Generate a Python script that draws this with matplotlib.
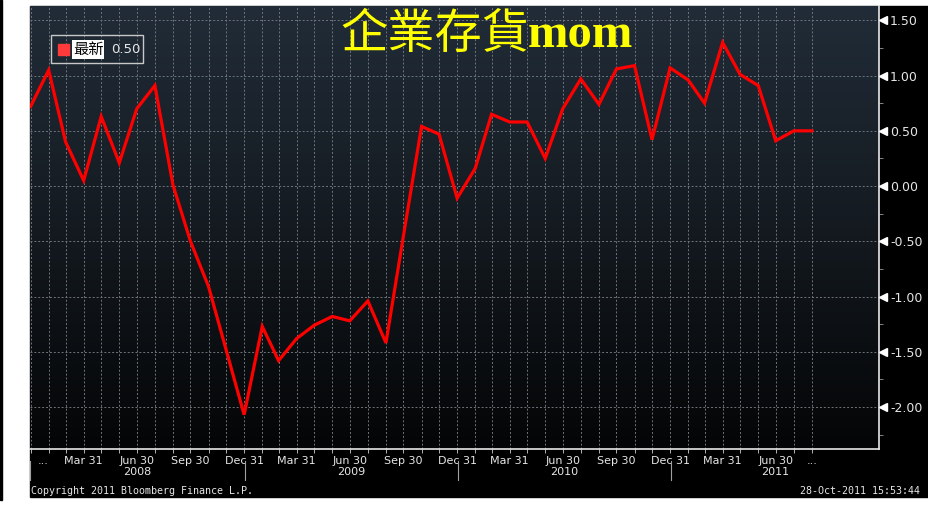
import matplotlib
matplotlib.use("Agg")
import matplotlib.pyplot as plt
import matplotlib.transforms as mtransforms
from matplotlib.colors import LinearSegmentedColormap
from matplotlib.patches import Rectangle
import numpy as np
import pandas as pd

plt.rcParams["axes.unicode_minus"] = False

# monthly inventories mom (%), Dec 2007 - Aug 2011
dates = pd.date_range("2007-12-31", periods=45, freq="ME")
values = [0.72, 1.05, 0.40, 0.05, 0.63, 0.21, 0.70, 0.91, 0.01, -0.50,
          -0.91, -1.48, -2.07, -1.27, -1.58, -1.38, -1.26, -1.18, -1.22, -1.04,
          -1.42, -0.45, 0.54, 0.47, -0.11, 0.16, 0.65, 0.58, 0.58, 0.25,
          0.70, 0.97, 0.74, 1.06, 1.09, 0.42, 1.07, 0.96, 0.75, 1.30,
          1.01, 0.91, 0.41, 0.50, 0.50]
last_value = "0.50"
title_cn = "企業存貨"
title_en = "mom"
legend_label = "最新"
years = [2008, 2009, 2010, 2011]
copyright_text = "Copyright 2011 Bloomberg Finance L.P."
stamp_text = "28-Oct-2011 15:53:44"

W, H = 929, 505
fig = plt.figure(figsize=(W / 100, H / 100), dpi=100, facecolor="white")


def fx(px):
    return px / W


def fy(py):
    return 1 - py / H


# black panel and thin left line
fig.patches.append(Rectangle((fx(30), fy(497)), fx(929) - fx(30), fy(6) - fy(497),
                             transform=fig.transFigure, color="black", zorder=-2))
fig.patches.append(Rectangle((0, fy(500)), fx(2), fy(0) - fy(500),
                             transform=fig.transFigure, color="black", zorder=-2))

rect = [fx(30), fy(449), fx(879) - fx(30), fy(6) - fy(449)]

bg = fig.add_axes(rect, zorder=0)
cmap = LinearSegmentedColormap.from_list("bb", ["#040506", "#141a20", "#212c38"])
grad = np.linspace(0, 1, 256).reshape(-1, 1)
bg.imshow(grad, cmap=cmap, aspect="auto", origin="lower", extent=[0, 1, 0, 1])
bg.axis("off")

ax = fig.add_axes(rect, zorder=1)
ax.set_facecolor("none")

ax.plot(dates, values, color="#ff0000", lw=2.3, zorder=3, solid_joinstyle="miter")

x_left = pd.Timestamp("2007-12-30")
x_right = pd.Timestamp("2011-12-24")
ax.set_xlim(x_left, x_right)
ax.set_ylim(-2.38, 1.63)

for s in ["left", "top"]:
    ax.spines[s].set_visible(False)
for s in ["right", "bottom"]:
    ax.spines[s].set_color("#e8e8e8")
    ax.spines[s].set_linewidth(1.2)

# y axis on the right
ax.yaxis.tick_right()
yt = np.arange(-2.0, 1.51, 0.5)
ax.set_yticks(yt)
ax.set_yticklabels(["%.2f" % v for v in yt])
ax.set_yticks(np.arange(-2.25, 1.6, 0.25), minor=True)
ax.tick_params(axis="y", which="major", length=0, pad=8, labelsize=9, labelcolor="#e6e6e6")
ax.tick_params(axis="y", which="minor", length=3, color="#9a9a9a", direction="out")
tri = ax.get_yaxis_transform() + mtransforms.ScaledTranslation(4 / 100, 0, fig.dpi_scale_trans)
ax.plot([1] * len(yt), yt, ls="none", marker="<", ms=6, color="white", mec="white",
        transform=tri, clip_on=False, zorder=5)

# x axis: quarter labels, monthly ticks
quarters = [d for d in dates if d.month in (3, 6, 9, 12) and d > dates[0] and d < dates[-2]]
ax.set_xticks(quarters)
ax.set_xticklabels([d.strftime("%b ") + str(d.day) for d in quarters])
ax.set_xticks(dates, minor=True)
ax.xaxis.remove_overlapping_locs = False
ax.tick_params(axis="x", which="major", length=0, pad=5, labelsize=8, labelcolor="#e6e6e6")
ax.tick_params(axis="x", which="minor", length=3, color="#d0d0d0", direction="out")

ax.grid(axis="x", which="minor", color="#6f757b", ls=(0, (2, 2)), lw=0.7)
ax.grid(axis="y", which="major", color="#6f757b", ls=(0, (2, 2)), lw=0.7)
ax.set_axisbelow(True)

xt = ax.get_xaxis_transform()
ax.text(pd.Timestamp("2008-01-21"), -0.027, "...", transform=xt, ha="center", va="center",
        color="#e6e6e6", fontsize=8)
ax.text(pd.Timestamp("2011-08-31"), -0.027, "...", transform=xt, ha="center", va="center",
        color="#e6e6e6", fontsize=8)

# year row
bounds = [x_left] + [pd.Timestamp(f"{y}-01-01") for y in years[1:]] + [x_right]
for b in bounds[:-1]:
    ax.plot([b, b], [(449 - 461) / 443, (449 - 480) / 443], color="#a0a0a0", lw=0.8,
            transform=xt, clip_on=False)
for i, y in enumerate(years):
    mid = bounds[i] + (bounds[i + 1] - bounds[i]) / 2
    ax.text(mid, (449 - 472) / 443, str(y), transform=xt, ha="center", va="center",
            color="#e6e6e6", fontsize=8)

# title
fig.text(fx(529), fy(48), title_cn, family=["Noto Sans CJK TC", "DejaVu Sans"], fontsize=34,
         weight="light", color="#ffff00", ha="right", va="baseline")
fig.text(fx(528), fy(47), title_en, family="Liberation Serif", weight="bold", fontsize=35,
         color="#ffff00", ha="left", va="baseline")

# legend box
fig.patches.append(Rectangle((fx(51), fy(63)), fx(143) - fx(51), fy(35) - fy(63),
                             transform=fig.transFigure, fill=False, ec="#c8c8c8", lw=1, zorder=4))
fig.patches.append(Rectangle((fx(58), fy(55)), fx(69) - fx(58), fy(44) - fy(55),
                             transform=fig.transFigure, color="#ff3a3a", zorder=4))
fig.text(fx(73), fy(49.5), legend_label, family=["Noto Sans CJK TC", "DejaVu Sans"], fontsize=11,
         color="black", ha="left", va="center",
         bbox=dict(facecolor="white", edgecolor="none", pad=0.6))
fig.text(fx(111), fy(49.5), last_value, fontsize=9.5, color="#e6e6e6", ha="left", va="center")

# footer
fig.text(fx(31), fy(491), copyright_text, family="DejaVu Sans Mono", fontsize=7.2,
         color="#e6e6e6", ha="left", va="center")
fig.text(fx(920), fy(491), stamp_text, family="DejaVu Sans Mono", fontsize=7.2,
         color="#e6e6e6", ha="right", va="center")

fig.savefig("out.png", dpi=100, facecolor="white")
